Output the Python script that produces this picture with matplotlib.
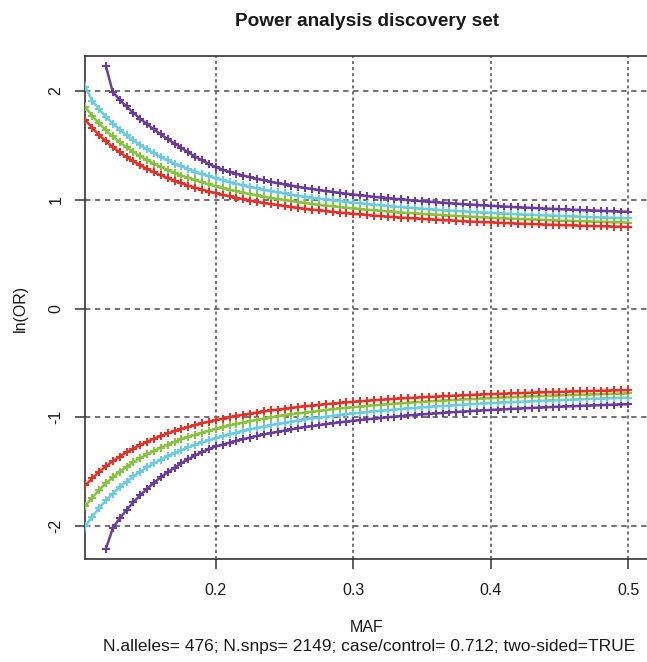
import matplotlib
matplotlib.use("Agg")
import matplotlib.pyplot as plt

plt.rcParams['font.family'] = ['Liberation Sans', 'DejaVu Sans']

# MAF grid (x values)
maf = [0.100, 0.105, 0.110, 0.115, 0.120, 0.125, 0.130, 0.135, 0.140, 0.145,
       0.150, 0.155, 0.160, 0.165, 0.170, 0.175, 0.180, 0.185, 0.190, 0.195,
       0.200, 0.205, 0.210, 0.215, 0.220, 0.225, 0.230, 0.235, 0.240, 0.245,
       0.250, 0.255, 0.260, 0.265, 0.270, 0.275, 0.280, 0.285, 0.290, 0.295,
       0.300, 0.305, 0.310, 0.315, 0.320, 0.325, 0.330, 0.335, 0.340, 0.345,
       0.350, 0.355, 0.360, 0.365, 0.370, 0.375, 0.380, 0.385, 0.390, 0.395,
       0.400, 0.405, 0.410, 0.415, 0.420, 0.425, 0.430, 0.435, 0.440, 0.445,
       0.450, 0.455, 0.460, 0.465, 0.470, 0.475, 0.480, 0.485, 0.490, 0.495,
       0.500]

red_up = [1.818, 1.736, 1.662, 1.596, 1.538, 1.485, 1.437, 1.393, 1.353, 1.317,
          1.284, 1.253, 1.225, 1.199, 1.174, 1.152, 1.131, 1.111, 1.093, 1.076,
          1.060, 1.045, 1.031, 1.017, 1.005, 0.993, 0.981, 0.971, 0.961, 0.951,
          0.942, 0.933, 0.925, 0.917, 0.910, 0.902, 0.895, 0.889, 0.883, 0.877,
          0.871, 0.865, 0.860, 0.855, 0.850, 0.845, 0.841, 0.836, 0.832, 0.828,
          0.824, 0.820, 0.817, 0.813, 0.810, 0.807, 0.803, 0.800, 0.797, 0.795,
          0.792, 0.789, 0.786, 0.784, 0.781, 0.779, 0.777, 0.774, 0.772, 0.770,
          0.768, 0.766, 0.764, 0.762, 0.760, 0.758, 0.757, 0.755, 0.753, 0.752,
          0.750]

green_up = [1.942, 1.853, 1.773, 1.703, 1.639, 1.582, 1.530, 1.483, 1.441, 1.401,
            1.365, 1.332, 1.302, 1.274, 1.248, 1.223, 1.201, 1.180, 1.160, 1.141,
            1.124, 1.108, 1.093, 1.078, 1.065, 1.052, 1.040, 1.028, 1.017, 1.007,
            0.997, 0.988, 0.979, 0.970, 0.962, 0.954, 0.947, 0.940, 0.933, 0.927,
            0.920, 0.914, 0.909, 0.903, 0.898, 0.893, 0.888, 0.883, 0.879, 0.874,
            0.870, 0.866, 0.862, 0.858, 0.855, 0.851, 0.848, 0.844, 0.841, 0.838,
            0.835, 0.832, 0.829, 0.827, 0.824, 0.821, 0.819, 0.816, 0.814, 0.812,
            0.809, 0.807, 0.805, 0.803, 0.801, 0.799, 0.797, 0.795, 0.793, 0.792,
            0.790]

cyan_up = [2.300, 2.040, 1.912, 1.834, 1.764, 1.701, 1.644, 1.593, 1.546, 1.502,
           1.463, 1.427, 1.393, 1.362, 1.333, 1.307, 1.282, 1.258, 1.237, 1.217,
           1.197, 1.180, 1.163, 1.147, 1.132, 1.118, 1.104, 1.092, 1.080, 1.068,
           1.058, 1.047, 1.037, 1.028, 1.019, 1.011, 1.003, 0.995, 0.987, 0.980,
           0.973, 0.967, 0.960, 0.954, 0.949, 0.943, 0.938, 0.932, 0.928, 0.923,
           0.918, 0.914, 0.909, 0.905, 0.901, 0.897, 0.893, 0.890, 0.886, 0.883,
           0.880, 0.876, 0.873, 0.870, 0.867, 0.864, 0.862, 0.859, 0.856, 0.854,
           0.851, 0.849, 0.847, 0.844, 0.842, 0.840, 0.838, 0.836, 0.834, 0.832,
           0.830]

# purple series starts at MAF = 0.12 (index 4)
purple_up = [2.230, 1.990, 1.920, 1.858, 1.800, 1.745,
             1.695, 1.647, 1.602, 1.558, 1.517, 1.478, 1.435, 1.397, 1.362, 1.330,
             1.300, 1.276, 1.257, 1.239, 1.223, 1.207, 1.193, 1.179, 1.165, 1.153,
             1.141, 1.130, 1.119, 1.108, 1.099, 1.089, 1.080, 1.072, 1.063, 1.056,
             1.048, 1.041, 1.034, 1.027, 1.021, 1.015, 1.009, 1.003, 0.998, 0.992,
             0.987, 0.982, 0.977, 0.973, 0.968, 0.964, 0.960, 0.956, 0.952, 0.948,
             0.945, 0.941, 0.938, 0.934, 0.931, 0.928, 0.925, 0.922, 0.919, 0.916,
             0.914, 0.911, 0.908, 0.906, 0.903, 0.901, 0.899, 0.896, 0.894, 0.892,
             0.890]

red_lo = [-1.700, -1.627, -1.561, -1.503, -1.451, -1.403, -1.361, -1.322, -1.287, -1.254,
          -1.225, -1.197, -1.172, -1.149, -1.127, -1.107, -1.089, -1.071, -1.055, -1.040,
          -1.026, -1.012, -1.000, -0.988, -0.976, -0.966, -0.956, -0.946, -0.937, -0.929,
          -0.921, -0.913, -0.906, -0.899, -0.892, -0.886, -0.879, -0.874, -0.868, -0.863,
          -0.858, -0.853, -0.848, -0.843, -0.839, -0.835, -0.831, -0.827, -0.823, -0.820,
          -0.816, -0.813, -0.810, -0.806, -0.803, -0.800, -0.798, -0.795, -0.792, -0.790,
          -0.787, -0.785, -0.782, -0.780, -0.778, -0.776, -0.774, -0.772, -0.770, -0.768,
          -0.766, -0.764, -0.762, -0.761, -0.759, -0.757, -0.756, -0.754, -0.753, -0.751,
          -0.750]

green_lo = [-1.903, -1.816, -1.739, -1.670, -1.608, -1.552, -1.502, -1.456, -1.414, -1.376,
            -1.341, -1.309, -1.279, -1.252, -1.226, -1.202, -1.180, -1.160, -1.141, -1.123,
            -1.106, -1.090, -1.075, -1.061, -1.048, -1.035, -1.023, -1.012, -1.001, -0.991,
            -0.982, -0.973, -0.964, -0.956, -0.948, -0.940, -0.933, -0.926, -0.919, -0.913,
            -0.907, -0.901, -0.896, -0.890, -0.885, -0.880, -0.875, -0.871, -0.866, -0.862,
            -0.858, -0.854, -0.850, -0.847, -0.843, -0.840, -0.836, -0.833, -0.830, -0.827,
            -0.824, -0.821, -0.818, -0.816, -0.813, -0.810, -0.808, -0.806, -0.803, -0.801,
            -0.799, -0.797, -0.795, -0.793, -0.791, -0.789, -0.787, -0.785, -0.783, -0.782,
            -0.780]

cyan_lo = [-2.300, -2.002, -1.914, -1.835, -1.765, -1.701, -1.644, -1.591, -1.544, -1.500,
           -1.460, -1.423, -1.389, -1.358, -1.329, -1.302, -1.277, -1.253, -1.231, -1.211,
           -1.192, -1.174, -1.157, -1.141, -1.125, -1.111, -1.098, -1.085, -1.073, -1.061,
           -1.050, -1.040, -1.030, -1.020, -1.011, -1.003, -0.995, -0.987, -0.979, -0.972,
           -0.965, -0.958, -0.952, -0.946, -0.940, -0.934, -0.929, -0.924, -0.919, -0.914,
           -0.909, -0.905, -0.900, -0.896, -0.892, -0.888, -0.884, -0.880, -0.877, -0.873,
           -0.870, -0.867, -0.864, -0.861, -0.858, -0.855, -0.852, -0.849, -0.847, -0.844,
           -0.842, -0.839, -0.837, -0.835, -0.832, -0.830, -0.828, -0.826, -0.824, -0.822,
           -0.820]

purple_lo = [-2.210, -2.020, -1.930, -1.852, -1.782, -1.717,
             -1.657, -1.602, -1.551, -1.505, -1.462, -1.422, -1.385, -1.351, -1.320, -1.292,
             -1.268, -1.251, -1.233, -1.216, -1.201, -1.186, -1.171, -1.158, -1.145, -1.133,
             -1.122, -1.111, -1.100, -1.090, -1.081, -1.072, -1.063, -1.055, -1.047, -1.039,
             -1.032, -1.025, -1.019, -1.012, -1.006, -1.000, -0.994, -0.989, -0.983, -0.978,
             -0.973, -0.969, -0.964, -0.960, -0.955, -0.951, -0.947, -0.943, -0.940, -0.936,
             -0.933, -0.929, -0.926, -0.923, -0.920, -0.916, -0.914, -0.911, -0.908, -0.905,
             -0.903, -0.900, -0.898, -0.895, -0.893, -0.891, -0.888, -0.886, -0.884, -0.882,
             -0.880]

x_ticks = [0.2, 0.3, 0.4, 0.5]
x_ticklabels = ["0.2", "0.3", "0.4", "0.5"]
y_ticks = [-2, -1, 0, 1, 2]
y_ticklabels = ["-2", "-1", "0", "1", "2"]

title = "Power analysis discovery set"
xlabel = "MAF"
ylabel = "ln(OR)"
subtitle = "N.alleles= 476; N.snps= 2149; case/control= 0.712; two-sided=TRUE"

colors = {"purple": "#6a3d9a", "cyan": "#6ccbe0", "green": "#86c341", "red": "#e2332a"}

W, H = 647, 662
fig = plt.figure(figsize=(W / 100, H / 100), dpi=100)
ax = fig.add_axes([85 / W, 1 - 559 / H, (649 - 85) / W, (559 - 56) / H])

ax.set_xlim(0.1048, 0.5152)
ax.set_ylim(-2.303, 2.322)

# grid
for yv in y_ticks:
    ax.axhline(yv, color="#4a4a4a", lw=1.1, ls=(0, (3.5, 3)), zorder=1)
for xv in x_ticks:
    ax.axvline(xv, color="#4a4a4a", lw=1.1, ls=(0, (2, 2)), zorder=1)

n0 = len(maf) - len(purple_up)
series = [
    (maf[n0:], purple_up, purple_lo, colors["purple"]),
    (maf, cyan_up, cyan_lo, colors["cyan"]),
    (maf, green_up, green_lo, colors["green"]),
    (maf, red_up, red_lo, colors["red"]),
]
for xs, up, lo, c in series:
    for ys in (up, lo):
        ax.plot(xs, ys, color=c, lw=1.8, marker="+", ms=6, mew=1.5, zorder=3)

ax.set_xticks(x_ticks)
ax.set_xticklabels(x_ticklabels)
ax.set_yticks(y_ticks)
ax.set_yticklabels(y_ticklabels, rotation=90, va="center")

ax.tick_params(axis="both", direction="out", length=7.5, width=1.1, color="#333333",
               labelsize=11.5, labelcolor="#1a1a1a")
ax.tick_params(axis="x", pad=10)
ax.tick_params(axis="y", pad=8)

for side in ("left", "bottom", "top"):
    ax.spines[side].set_color("#333333")
    ax.spines[side].set_linewidth(1.2)
ax.spines["right"].set_visible(False)

fig.text(367 / W, 1 - 21 / H, title, ha="center", va="center", fontsize=13.7,
         fontweight="bold", color="#1a1a1a")
fig.text(367 / W, 1 - 628 / H, xlabel, ha="center", va="center", fontsize=11.5, color="#1a1a1a")
fig.text(369 / W, 1 - 647 / H, subtitle, ha="center", va="center", fontsize=12.5, color="#1a1a1a")
fig.text(20 / W, 1 - 308 / H, ylabel, ha="center", va="center", rotation=90,
         fontsize=11.5, color="#1a1a1a")

fig.savefig("out.png", dpi=100, facecolor="white")
